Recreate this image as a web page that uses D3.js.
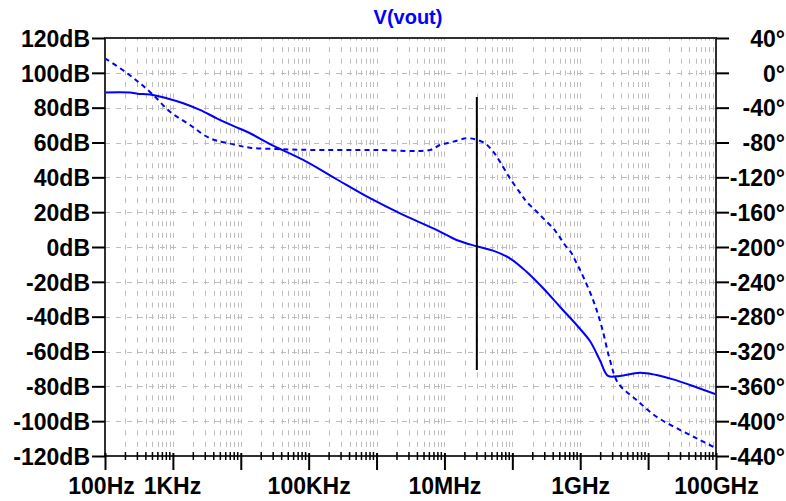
<!DOCTYPE html>
<html>
<head>
<meta charset="utf-8">
<script src="https://cdn.jsdelivr.net/npm/d3@7/dist/d3.min.js"></script>
<style>
  html, body { margin: 0; padding: 0; background: #ffffff; }
  svg { display: block; }
  .lbl { font-family: "Liberation Sans", Arial, sans-serif; font-weight: bold; font-size: 23px; fill: #000; }
</style>
</head>
<body>
<svg id="chart" width="786" height="501"></svg>
<script>
// ---- data ----
const title = "V(vout)";
// magnitude trace (left axis, dB)
const magFreq = [100, 250, 300, 460, 810, 1420, 2500, 4420, 7750, 13700, 26900, 83000,
  258000, 800000, 2.47e6, 7.66e6, 15.1e6, 29.8e6, 52e6, 92e6, 162e6, 285e6, 502e6,
  933e6, 1.39e9, 1.95e9, 2.57e9, 3.85e9, 7.57e9, 13.3e9, 23.4e9, 41.3e9, 100e9];
const magDb = [88.7, 88.6, 88.0, 87.6, 85.4, 82.5, 78.7, 73.9, 69.5, 65.3, 59.1, 50,
  38.9, 28, 18.4, 9.8, 4.0, 0.4, -2.1, -6.5, -14.2, -23.7, -34.3,
  -45.8, -54, -65, -74, -74, -72.2, -73.5, -76, -79.2, -84.6];
// phase trace (right axis, degrees)
const phFreq = [100, 197, 327, 514, 906, 1790, 3520, 7760, 13700, 33800, 100000, 1e6, 6.1e6,
  8.6e6, 13.5e6, 21.2e6, 28.2e6, 39.5e6, 52.3e6, 65.6e6, 92.2e6, 137e6, 162e6, 203e6, 241e6,
  302e6, 400e6, 474e6, 596e6, 747e6, 885e6, 1.05e9, 1.55e9, 2.07e9, 2.74e9, 3.63e9, 6.76e9,
  13.3e9, 29.4e9, 58e9, 100e9];
const phDeg = [16.7, 1.3, -12, -25.5, -44.6, -59.9, -75.2, -82.1, -86, -87.5, -88.5, -88.6, -88.6,
  -82.9, -79, -75.2, -76.3, -80.9, -90.6, -102, -121, -140.3, -148, -155.6, -161.3,
  -169, -178.5, -186.2, -197.7, -207.2, -218.7, -230.2, -261, -291.5, -329.8, -356.5, -375.7,
  -394.9, -410, -421.6, -431];
// cursor line
const cursorFreq = 30e6;
const cursorDb = [86.1, -70.6];
// axis ticks
const dbTicks = [-120, -100, -80, -60, -40, -20, 0, 20, 40, 60, 80, 100, 120];
const degTicks = [-440, -400, -360, -320, -280, -240, -200, -160, -120, -80, -40, 0, 40];
const decadeTicks = [1e2, 1e3, 1e4, 1e5, 1e6, 1e7, 1e8, 1e9, 1e10, 1e11];
const freqLabels = { 1e2: "100Hz", 1e3: "1KHz", 1e5: "100KHz", 1e7: "10MHz", 1e9: "1GHz", 1e11: "100GHz" };

// ---- layout ----
const L = 105, R = 716, T = 38, B = 456;
const svg = d3.select("#chart");

const x = d3.scaleLog().domain([1e2, 1e11]).range([L, R]);
const yDb = d3.scaleLinear().domain([-120, 120]).range([B, T]);
const yDeg = d3.scaleLinear().domain([-440, 40]).range([B, T]);

// minor frequencies (2..9 within each decade)
const minorFreqs = [];
decadeTicks.slice(0, -1).forEach(d => { for (let k = 2; k <= 9; k++) minorFreqs.push(d * k); });

// ---- grid ----
const grid = svg.append("g").attr("stroke", "#bdbdbd").attr("stroke-width", 1).attr("fill", "none");
const period = (B - T) / 36;
grid.selectAll("line.v").data(minorFreqs.concat(decadeTicks.slice(1, -1))).join("line")
  .attr("x1", d => Math.round(x(d)) + 0.5).attr("x2", d => Math.round(x(d)) + 0.5)
  .attr("y1", T).attr("y2", B)
  .attr("stroke-dasharray", `5,${period - 5}`).attr("stroke-dashoffset", 2.5);
grid.selectAll("line.h").data(dbTicks.slice(1, -1)).join("line")
  .attr("x1", L).attr("x2", R)
  .attr("y1", d => Math.round(yDb(d)) + 0.5).attr("y2", d => Math.round(yDb(d)) + 0.5)
  .attr("stroke-dasharray", "5,6");

// ---- traces ----
svg.append("clipPath").attr("id", "clip").append("rect")
  .attr("x", L).attr("y", T).attr("width", R - L).attr("height", B - T);
const plot = svg.append("g").attr("clip-path", "url(#clip)");

const magLine = d3.line().x((d, i) => x(magFreq[i])).y(d => yDb(d)).curve(d3.curveCatmullRom.alpha(0.5));
const phLine = d3.line().x((d, i) => x(phFreq[i])).y(d => yDeg(d)).curve(d3.curveCatmullRom.alpha(0.5));

plot.append("path").attr("d", phLine(phDeg)).attr("fill", "none")
  .attr("stroke", "#0000ff").attr("stroke-width", 2).attr("stroke-dasharray", "5,4");
plot.append("path").attr("d", magLine(magDb)).attr("fill", "none")
  .attr("stroke", "#0000ff").attr("stroke-width", 2);

// cursor
svg.append("line")
  .attr("x1", x(cursorFreq)).attr("x2", x(cursorFreq))
  .attr("y1", yDb(cursorDb[0])).attr("y2", yDb(cursorDb[1]))
  .attr("stroke", "#000").attr("stroke-width", 2);

// ---- frame ----
svg.append("rect").attr("x", L).attr("y", T).attr("width", R - L).attr("height", B - T)
  .attr("fill", "none").attr("stroke", "#303030").attr("stroke-width", 2);

// ---- axes ----
const leftAxis = d3.axisLeft(yDb).tickValues(dbTicks).tickFormat(d => d + "dB").tickSize(13).tickPadding(2).tickSizeOuter(0);
const gl = svg.append("g").attr("transform", `translate(${L},0)`).call(leftAxis);

const rightAxis = d3.axisRight(yDeg).tickValues(degTicks).tickFormat(d => d + "°").tickSize(13).tickPadding(2).tickSizeOuter(0);
const gr = svg.append("g").attr("transform", `translate(${R},0)`).call(rightAxis);
gr.selectAll("text").attr("text-anchor", "end").attr("x", 69);

const bottomAxis = d3.axisBottom(x).tickValues(decadeTicks).tickFormat(d => freqLabels[d] || "").tickSize(14).tickPadding(8).tickSizeOuter(0);
const gb = svg.append("g").attr("transform", `translate(0,${B})`).call(bottomAxis);
gb.selectAll(".tick line").attr("y1", -3);
gb.selectAll(".tick text").filter(d => d === 1e2).attr("dx", -4);
gb.selectAll(".tick text").filter(d => d === 1e3).attr("dx", -1);

// minor ticks on bottom axis
svg.append("g").selectAll("line").data(minorFreqs).join("line")
  .attr("x1", d => x(d)).attr("x2", d => x(d))
  .attr("y1", B - 4).attr("y2", B + 4)
  .attr("stroke", "#000").attr("stroke-width", 1.5);

[gl, gr, gb].forEach(g => {
  g.select(".domain").remove();
  g.selectAll(".tick line").attr("stroke", "#000").attr("stroke-width", 2);
  g.selectAll("text").attr("class", "lbl").attr("font-family", null).attr("font-size", null);
});
gl.selectAll("text").attr("dy", "0.36em");
gr.selectAll("text").attr("dy", "0.36em");

// ---- title ----
svg.append("text").attr("x", 408).attr("y", 24).attr("text-anchor", "middle")
  .attr("font-family", "Liberation Sans, Arial, sans-serif").attr("font-weight", "bold")
  .attr("font-size", 20).attr("fill", "#0000ff").text(title);
</script>
</body>
</html>
